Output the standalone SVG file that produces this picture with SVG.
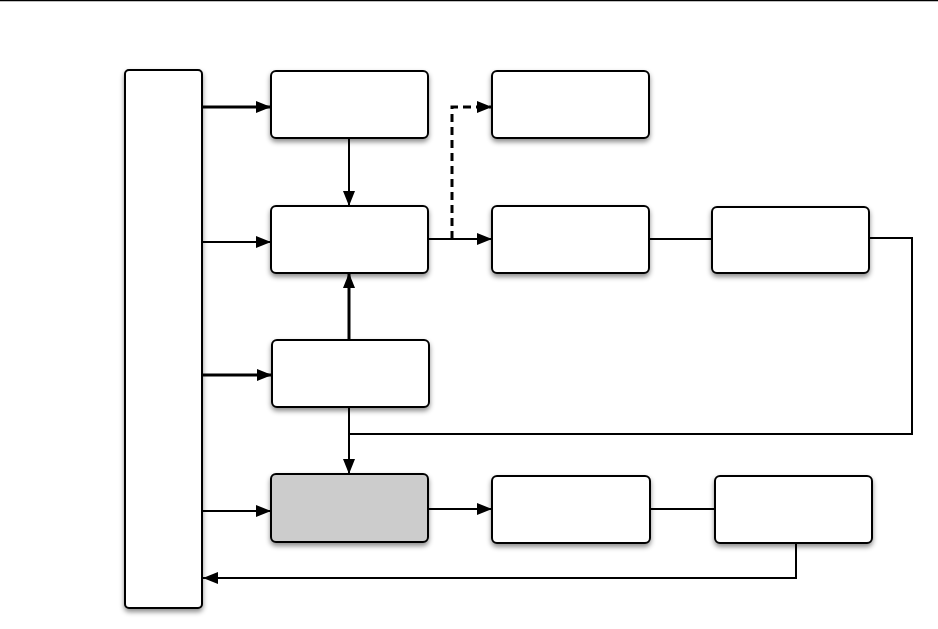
<svg xmlns="http://www.w3.org/2000/svg" width="938" height="629" viewBox="0 0 938 629">
  <style>
    .box { fill: #ffffff; stroke: #000000; stroke-width: 2; filter: url(#shadow); }
    .grey { fill: #cccccc; }
    .c { fill: none; stroke: #000000; stroke-width: 2; }
    .thick { stroke-width: 3; }
    .dash { stroke-dasharray: 8 5; stroke-width: 3; }
    .arr { marker-end: url(#ah); }
  </style>
  <defs>
    <filter id="shadow" x="-10%" y="-10%" width="130%" height="140%">
      <feDropShadow dx="0" dy="3" stdDeviation="2.5" flood-color="#000000" flood-opacity="0.45"/>
    </filter>
    <marker id="ah" markerUnits="userSpaceOnUse" markerWidth="16" markerHeight="12" refX="15" refY="6" orient="auto">
      <path d="M0,0 L15,6 L0,12 Z" fill="#000000"/>
    </marker>
  </defs>
  <rect width="938" height="629" fill="#ffffff"/>
  <line x1="0" y1="0.5" x2="938" y2="0.5" stroke="#000000" stroke-width="1.5"/>

  <g id="connectors">
    <line class="c thick arr" x1="202" y1="107" x2="271" y2="107"/>
    <line class="c arr" x1="202" y1="242" x2="271" y2="242"/>
    <line class="c thick arr" x1="202" y1="375" x2="272" y2="375"/>
    <line class="c arr" x1="202" y1="511" x2="271" y2="511"/>
    <line class="c arr" x1="349" y1="138" x2="349" y2="206"/>
    <line class="c thick arr" x1="349" y1="340" x2="349" y2="273"/>
    <line class="c arr" x1="349" y1="407" x2="349" y2="474"/>
    <polyline class="c" points="869,238 912,238 912,434 349,434"/>
    <line class="c arr" x1="428" y1="239" x2="492" y2="239"/>
    <polyline class="c dash arr" points="452,239 452,107 492,107"/>
    <line class="c" x1="649" y1="239" x2="712" y2="239"/>
    <line class="c arr" x1="428" y1="509" x2="492" y2="509"/>
    <line class="c" x1="650" y1="509" x2="715" y2="509"/>
    <polyline class="c arr" points="796,543 796,578 203,578"/>
  </g>

  <g id="node-left"><rect class="box" x="125" y="70" width="77" height="538" rx="4"/></g>
  <g id="node-a"><rect class="box" x="271" y="71" width="157" height="67" rx="5"/></g>
  <g id="node-b"><rect class="box" x="271" y="206" width="157" height="67" rx="5"/></g>
  <g id="node-c"><rect class="box" x="272" y="340" width="157" height="67" rx="5"/></g>
  <g id="node-d"><rect class="box grey" x="271" y="474" width="157" height="68" rx="5"/></g>
  <g id="node-e"><rect class="box" x="492" y="71" width="157" height="67" rx="5"/></g>
  <g id="node-f"><rect class="box" x="492" y="206" width="157" height="67" rx="5"/></g>
  <g id="node-g"><rect class="box" x="712" y="207" width="157" height="66" rx="5"/></g>
  <g id="node-h"><rect class="box" x="492" y="476" width="158" height="67" rx="5"/></g>
  <g id="node-i"><rect class="box" x="715" y="476" width="157" height="67" rx="5"/></g>
</svg>
